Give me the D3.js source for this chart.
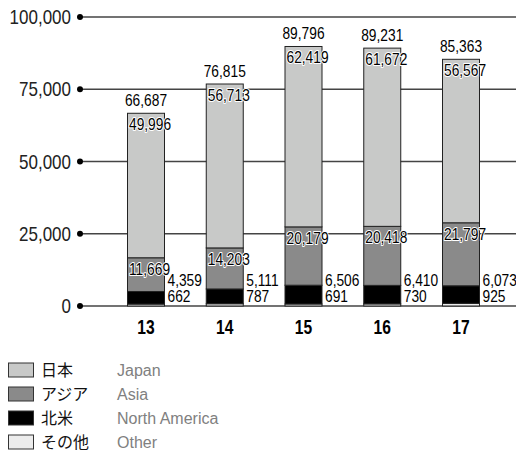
<!DOCTYPE html>
<html>
<head>
<meta charset="utf-8">
<script src="https://cdn.jsdelivr.net/npm/d3@7"></script>
<style>
  body { margin: 0; background: #fff; }
  svg { display: block; }
  .num { font-family: "Liberation Sans", Arial, sans-serif; }
</style>
</head>
<body>
<svg id="chart" width="516" height="451"></svg>
<script>
const years = ["13", "14", "15", "16", "17"];
const japan = [49996, 56713, 62419, 61672, 56567];
const asia = [11669, 14203, 20179, 20418, 21797];
const northAmerica = [4359, 5111, 6506, 6410, 6073];
const other = [662, 787, 691, 730, 925];
const totals = [66687, 76815, 89796, 89231, 85363];
const yTicks = [0, 25000, 50000, 75000, 100000];

const legendJa = ["日本", "アジア", "北米", "その他"];
const legendEn = ["Japan", "Asia", "North America", "Other"];
const colors = ["#c8c9c8", "#8a8a8a", "#000000", "#ececec"];

const svg = d3.select("#chart");
const fmt = d3.format(",");

const y = d3.scaleLinear().domain([0, 100000]).range([306, 17]);
const x = d3.scalePoint().domain(years).range([146, 461]);
const barW = 37;

// no condensed font installed, so squeeze the text horizontally
function place(sel, fx, fy, sx) {
  sel.attr("transform", (d, i) => `translate(${fx(d, i)},${fy(d, i)}) scale(${sx},1)`);
}

// grid lines + dots
const yAxis = svg.append("g");
yTicks.forEach(t => {
  yAxis.append("line")
    .attr("x1", 80).attr("x2", 516)
    .attr("y1", y(t)).attr("y2", y(t))
    .attr("stroke", "#444").attr("stroke-width", 1.4);
  yAxis.append("circle").attr("cx", 80).attr("cy", y(t)).attr("r", 3).attr("fill", "#000");
});
yAxis.selectAll("text").data(yTicks).join("text")
  .attr("class", "num").attr("dy", "0.36em")
  .attr("text-anchor", "end").attr("font-size", 20).attr("fill", "#222")
  .text(d => fmt(d))
  .call(place, () => 71, d => y(d), 0.85);

// stacked bars, bottom to top: other, north america, asia, japan
const rows = years.map((yr, i) => ({
  yr, i, parts: [other[i], northAmerica[i], asia[i], japan[i]]
}));
const stackColors = [colors[3], colors[2], colors[1], colors[0]];

const bars = svg.append("g").selectAll("g").data(rows).join("g");
bars.each(function(d) {
  const g = d3.select(this);
  let base = 0;
  d.parts.forEach((v, k) => {
    g.append("rect")
      .attr("x", x(d.yr) - barW / 2)
      .attr("width", barW)
      .attr("y", y(base + v))
      .attr("height", y(base) - y(base + v))
      .attr("fill", stackColors[k])
      .attr("stroke", "#222").attr("stroke-width", 1);
    base += v;
  });
});

const left = d => x(d.yr) - barW / 2;
const right = d => x(d.yr) + barW / 2;
const SX = 0.86;

// halo labels inside bars (japan, asia)
function haloText(sel) {
  sel.attr("class", "num").attr("font-size", 16)
    .attr("fill", "#000").attr("stroke", "#fff").attr("stroke-width", 2)
    .attr("stroke-linejoin", "round").attr("paint-order", "stroke");
}
svg.append("g").selectAll("text").data(rows).join("text")
  .text(d => fmt(japan[d.i])).call(haloText)
  .call(place, d => left(d) + 1.5, d => y(totals[d.i]) + 17, SX);

svg.append("g").selectAll("text").data(rows).join("text")
  .text(d => fmt(asia[d.i])).call(haloText)
  .call(place, d => left(d) + 1.5, d => y(asia[d.i] + northAmerica[d.i] + other[d.i]) + 17, SX);

// outside labels
svg.append("g").selectAll("text").data(rows).join("text")
  .attr("class", "num").attr("font-size", 16)
  .text(d => fmt(northAmerica[d.i]))
  .call(place, d => right(d) + 3, () => y(0) - 20, SX);

svg.append("g").selectAll("text").data(rows).join("text")
  .attr("class", "num").attr("font-size", 16)
  .text(d => fmt(other[d.i]))
  .call(place, d => right(d) + 3, () => y(0) - 4, SX);

svg.append("g").selectAll("text").data(rows).join("text")
  .attr("class", "num").attr("font-size", 16)
  .attr("text-anchor", "middle")
  .text(d => fmt(totals[d.i]))
  .call(place, d => x(d.yr), d => y(totals[d.i]) - 7, SX);

// category labels
svg.append("g").selectAll("text").data(years).join("text")
  .attr("class", "num").attr("font-size", 20).attr("font-weight", "bold")
  .attr("text-anchor", "middle")
  .text(d => d)
  .call(place, d => x(d), () => 334, 0.78);

// legend
const leg = svg.append("g").selectAll("g").data(legendJa).join("g")
  .attr("transform", (d, i) => `translate(0, ${363 + i * 24})`);
leg.append("rect").attr("x", 8.5).attr("y", 0).attr("width", 25).attr("height", 14)
  .attr("fill", (d, i) => colors[i]).attr("stroke", "#333").attr("stroke-width", 1);
leg.append("text").attr("x", 41).attr("y", 13)
  .attr("font-family", "'Noto Sans CJK JP', sans-serif").attr("font-size", 16)
  .attr("fill", "#111").text(d => d);
leg.append("text").attr("x", 117).attr("y", 13)
  .attr("font-family", "'Liberation Sans', Arial, sans-serif").attr("font-size", 16)
  .attr("fill", "#808080").text((d, i) => legendEn[i]);
</script>
</body>
</html>
